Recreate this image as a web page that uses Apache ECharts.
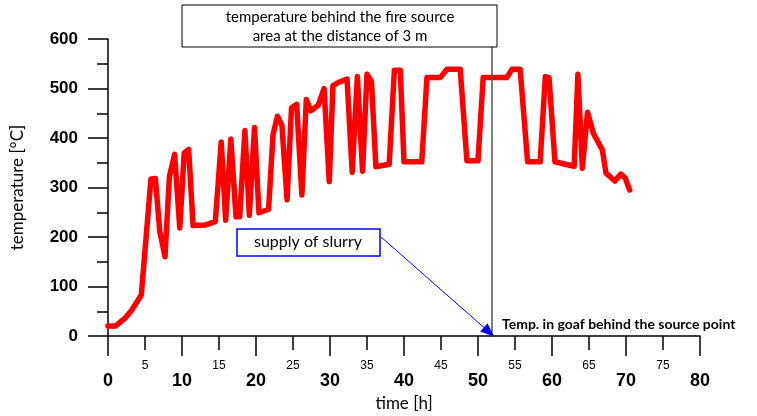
<!DOCTYPE html>
<html>
<head>
<meta charset="utf-8">
<script src="https://cdn.jsdelivr.net/npm/echarts@6/dist/echarts.min.js"></script>
<style>
  html, body { margin: 0; padding: 0; background: #fff; }
  #chart { width: 757px; height: 416px; }
</style>
</head>
<body>
<div id="chart"></div>
<script>
// time [h]
const times = [
  0.0, 1.0, 2.3, 3.2, 4.5, 5.8, 6.4, 7.0, 7.7, 8.3, 9.0, 9.7, 10.3, 10.9, 11.5,
  13.1, 14.5, 15.3, 15.9, 16.6, 17.3, 17.8, 18.5, 19.1, 19.8, 20.4, 21.7, 22.3,
  22.9, 23.5, 24.2, 24.8, 25.5, 26.2, 26.8, 27.4, 28.4, 29.2, 29.9, 30.4, 31.1,
  32.3, 33.0, 33.7, 34.4, 35.0, 35.6, 36.2, 38.0, 38.7, 39.5, 40.0, 42.4, 43.1,
  44.9, 45.8, 47.6, 48.5, 50.0, 50.7, 53.9, 54.6, 55.7, 56.7, 58.4, 59.1, 59.6,
  60.4, 61.8, 63.0, 63.5, 64.1, 64.8, 65.6, 66.8, 67.3, 68.5, 69.3, 69.9, 70.5
];
// temperature [°C]
const temps = [
  20, 20, 36, 52, 83, 317, 318, 211, 160, 322, 367, 218, 370, 377, 223,
  224, 231, 392, 234, 398, 241, 241, 415, 244, 421, 249, 256, 407,
  444, 426, 275, 461, 468, 285, 478, 455, 466, 500, 312, 506, 512,
  519, 331, 524, 333, 529, 514, 342, 347, 537, 537, 352, 352, 522,
  522, 539, 539, 354, 354, 522, 522, 539, 539, 352, 352, 524, 522,
  352, 347, 343, 529, 339, 452, 409, 376, 329, 313, 327, 319, 295
];

const sourceTime = 51.8;        // vertical line "Temp. in goaf behind the source point"
const arrowFrom = [36.9, 200];  // supply of slurry arrow
const arrowTo = [51.5, 8];

const textFont = 'Lato, "Open Sans", sans-serif';
const numFont = '"Liberation Sans", Arial, sans-serif';

const chart = echarts.init(document.getElementById('chart'));

const option = {
  animation: false,
  grid: { left: 108, right: 57, top: 39, bottom: 80, outerBoundsMode: 'none', containLabel: false },
  xAxis: [
    {
      type: 'value',
      min: 0,
      max: 80,
      interval: 10,
      name: 'time [h]',
      nameLocation: 'middle',
      nameGap: 58,
      nameTextStyle: { fontFamily: textFont, fontSize: 17, color: '#000' },
      axisLine: { onZero: false, lineStyle: { color: '#000', width: 1.5 } },
      axisTick: { length: 20, lineStyle: { color: '#000', width: 1.5 } },
      axisLabel: {
        margin: 36,
        fontFamily: numFont,
        fontWeight: 'bold',
        fontSize: 18,
        color: '#000',
      },
      splitLine: { show: false },
    },
    {
      type: 'value',
      min: 0,
      max: 80,
      interval: 5,
      position: 'bottom',
      axisLine: { show: false },
      axisTick: { length: 14, lineStyle: { color: '#000', width: 1.5 } },
      axisLabel: {
        margin: 24,
        fontFamily: numFont,
        fontSize: 12,
        color: '#000',
        formatter: function (v) {
          return v % 10 === 5 ? String(v) : '';
        },
      },
      splitLine: { show: false },
    },
  ],
  yAxis: {
    type: 'value',
    min: 0,
    max: 600,
    interval: 100,
    name: 'temperature [°C]',
    nameLocation: 'middle',
    nameGap: 82,
    nameRotate: 90,
    nameTextStyle: { fontFamily: textFont, fontSize: 17, color: '#000' },
    axisLine: { show: true, lineStyle: { color: '#000', width: 1.5 } },
    axisTick: { show: true, length: 20, lineStyle: { color: '#000', width: 1.5 } },
    minorTick: { show: true, splitNumber: 2, length: 11, lineStyle: { color: '#000', width: 1.5 } },
    axisLabel: {
      margin: 30,
      fontFamily: numFont,
      fontWeight: 'bold',
      fontSize: 17,
      color: '#000',
    },
    splitLine: { show: false },
  },
  series: [
    {
      type: 'line',
      xAxisIndex: 0,
      data: times.map((t, i) => [t, temps[i]]),
      showSymbol: false,
      lineStyle: { color: '#ff0000', width: 5.5, join: 'round', cap: 'round' },
      z: 3,
      markLine: {
        silent: true,
        symbol: 'none',
        label: { show: false },
        data: [
          [
            { coord: [sourceTime, 0], lineStyle: { color: '#555', width: 1.5, type: 'solid' } },
            { coord: [sourceTime, 584] },
          ],
          [
            {
              coord: arrowFrom,
              symbol: 'none',
              lineStyle: { color: '#0000ff', width: 1, type: 'solid' },
            },
            { coord: arrowTo, symbol: 'triangle', symbolSize: [11, 14] },
          ],
        ],
      },
    },
  ],
  graphic: [
    // top annotation box
    {
      type: 'rect',
      x: 182,
      y: 5,
      shape: { width: 315, height: 42 },
      style: { fill: '#fff', stroke: '#000', lineWidth: 1 },
      z: 10,
    },
    {
      type: 'text',
      x: 340,
      y: 8,
      style: {
        text: 'temperature behind the fire source\narea at the distance of 3 m',
        font: '15px ' + textFont,
        fill: '#000',
        align: 'center',
        lineHeight: 19,
      },
      z: 11,
    },
    // supply of slurry box
    {
      type: 'rect',
      x: 237,
      y: 229,
      shape: { width: 143, height: 27 },
      style: { fill: '#fff', stroke: '#0000ff', lineWidth: 1.5 },
      z: 10,
    },
    {
      type: 'text',
      x: 308,
      y: 234,
      style: {
        text: 'supply of slurry',
        font: '16px ' + textFont,
        fill: '#000',
        align: 'center',
      },
      z: 11,
    },
    {
      type: 'text',
      x: 502,
      y: 317,
      style: {
        text: 'Temp. in goaf behind the source point',
        font: 'bold 14px ' + textFont,
        fill: '#000',
      },
      z: 11,
    },
  ],
};

chart.setOption(option);
</script>
</body>
</html>
